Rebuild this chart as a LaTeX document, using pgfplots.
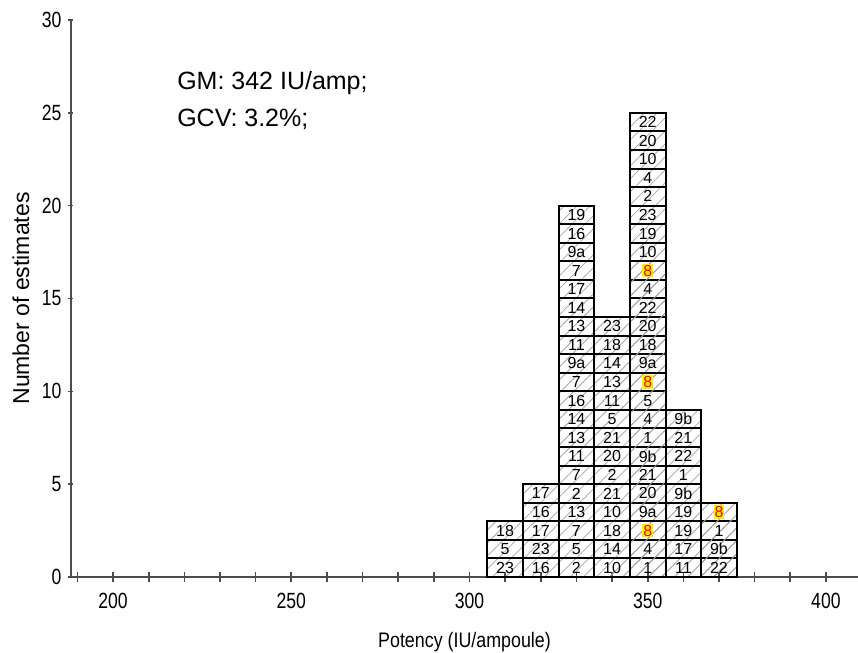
\documentclass[border=0pt]{standalone}
\usepackage{fontspec}
\setmainfont{Liberation Sans}
\newfontfamily\narrowfont{Liberation Sans}[FakeStretch=0.8]
\newfontfamily\labelfont{Liberation Sans}[FakeStretch=0.85]
\usepackage{pgfplots}
\usepackage{pgfplotstable}
\pgfplotsset{compat=1.18}
\usetikzlibrary{patterns.meta}

% cells: column centre, level (top of cell), middle of cell, laboratory code
\pgfplotstableread{
x lvl mid lab
350 25 24.5 22
350 24 23.5 20
350 23 22.5 10
350 22 21.5 4
350 21 20.5 2
350 20 19.5 23
330 20 19.5 19
350 19 18.5 19
330 19 18.5 16
350 18 17.5 10
330 18 17.5 9a
330 17 16.5 7
350 16 15.5 4
330 16 15.5 17
350 15 14.5 22
330 15 14.5 14
350 14 13.5 20
340 14 13.5 23
330 14 13.5 13
350 13 12.5 18
340 13 12.5 18
330 13 12.5 11
350 12 11.5 9a
340 12 11.5 14
330 12 11.5 9a
340 11 10.5 13
330 11 10.5 7
350 10 9.5 5
340 10 9.5 11
330 10 9.5 16
360 9 8.5 9b
350 9 8.5 4
340 9 8.5 5
330 9 8.5 14
360 8 7.5 21
350 8 7.5 1
340 8 7.5 21
330 8 7.5 13
360 7 6.5 22
350 7 6.5 9b
340 7 6.5 20
330 7 6.5 11
360 6 5.5 1
350 6 5.5 21
340 6 5.5 2
330 6 5.5 7
360 5 4.5 9b
350 5 4.5 20
340 5 4.5 21
330 5 4.5 2
320 5 4.5 17
360 4 3.5 19
350 4 3.5 9a
340 4 3.5 10
330 4 3.5 13
320 4 3.5 16
360 3 2.5 19
340 3 2.5 18
330 3 2.5 7
320 3 2.5 17
310 3 2.5 18
360 2 1.5 17
350 2 1.5 4
340 2 1.5 14
330 2 1.5 5
320 2 1.5 23
310 2 1.5 5
370 2 1.5 9b
360 1 0.5 11
350 1 0.5 1
340 1 0.5 10
330 1 0.5 2
320 1 0.5 16
310 1 0.5 23
370 1 0.5 22
370 3 2.5 1
}\cells

% highlighted cells (laboratory 8)
\pgfplotstableread{
x lvl mid lab
350 17 16.5 8
350 11 10.5 8
350 3 2.5 8
370 4 3.5 8
}\hcells

\pgfplotsset{
  common/.style={
    scale only axis,
    width=393.5pt, height=278.5pt,
    xmin=188.2, xmax=409, ymin=0, ymax=30,
    tick align=outside,
    tick style={draw=black!70, line width=0.8pt},
    /pgf/number format/assume math mode=true,
    ticklabel style={font=\narrowfont\fontsize{11}{13}\selectfont},
    clip=false,
  }
}

\begin{document}
\begin{tikzpicture}
\begin{axis}[
  common,
  axis x line=bottom, axis y line=none,
  x axis line style={-, draw=black!70, line width=0.8pt},
  xtick={200,250,...,400},
  minor xtick={190,200,...,400},
  major tick length=5pt, minor tick length=5pt,
  xticklabel style={yshift=-2pt},
  xlabel={Potency (IU/ampoule)},
  every axis x label/.style={at={(axis description cs:0.5,0)}, anchor=base, yshift=-35.5pt, font=\labelfont\fontsize{10.5}{12}\selectfont},
]
\addplot[ybar, bar width=10, bar shift=0pt, draw=black, line width=1pt,
  pattern={Lines[angle=45,distance=4.6pt,line width=0.4pt]}, pattern color=black!35]
  table[x=x, y=lvl] {\cells};
\addplot[ybar, bar width=10, bar shift=0pt, draw=black, line width=1pt,
  pattern={Lines[angle=45,distance=4.6pt,line width=0.4pt]}, pattern color=black!35]
  table[x=x, y=lvl] {\hcells};
\addplot[draw=none, mark=none, nodes near coords, point meta=explicit symbolic,
  nodes near coords align={anchor=center},
  every node near coord/.append style={font=\fontsize{8}{9}\selectfont, inner sep=0.5pt, text=black}]
  table[x=x, y=mid, meta=lab] {\cells};
\addplot[draw=none, mark=none, nodes near coords, point meta=explicit symbolic,
  nodes near coords align={anchor=center},
  every node near coord/.append style={font=\fontsize{8}{9}\selectfont, inner sep=0.5pt, fill=yellow, text=red}]
  table[x=x, y=mid, meta=lab] {\hcells};
\node[anchor=base west, inner sep=0pt, font=\fontsize{12.5}{15}\selectfont] at (axis cs:217.9,26.28) {GM: 342 IU/amp;};
\node[anchor=base west, inner sep=0pt, font=\fontsize{12.5}{15}\selectfont] at (axis cs:217.9,24.29) {GCV: 3.2\%;};
\end{axis}
\begin{axis}[
  common,
  axis x line=none, axis y line=left,
  y axis line style={-, draw=black!70, line width=0.8pt},
  ytick={0,5,...,30},
  major tick length=2.5pt,
  ylabel={Number of estimates},
  every axis y label/.style={at={([xshift=-25pt]axis description cs:0,0.5)}, anchor=center, rotate=90, font=\fontsize{11.5}{14}\selectfont},
]
\end{axis}
\pgfresetboundingbox
\path[use as bounding box] ([xshift=-35.5pt,yshift=-38pt]current axis.south west) rectangle ([yshift=10pt]current axis.north east);
\end{tikzpicture}
\end{document}
